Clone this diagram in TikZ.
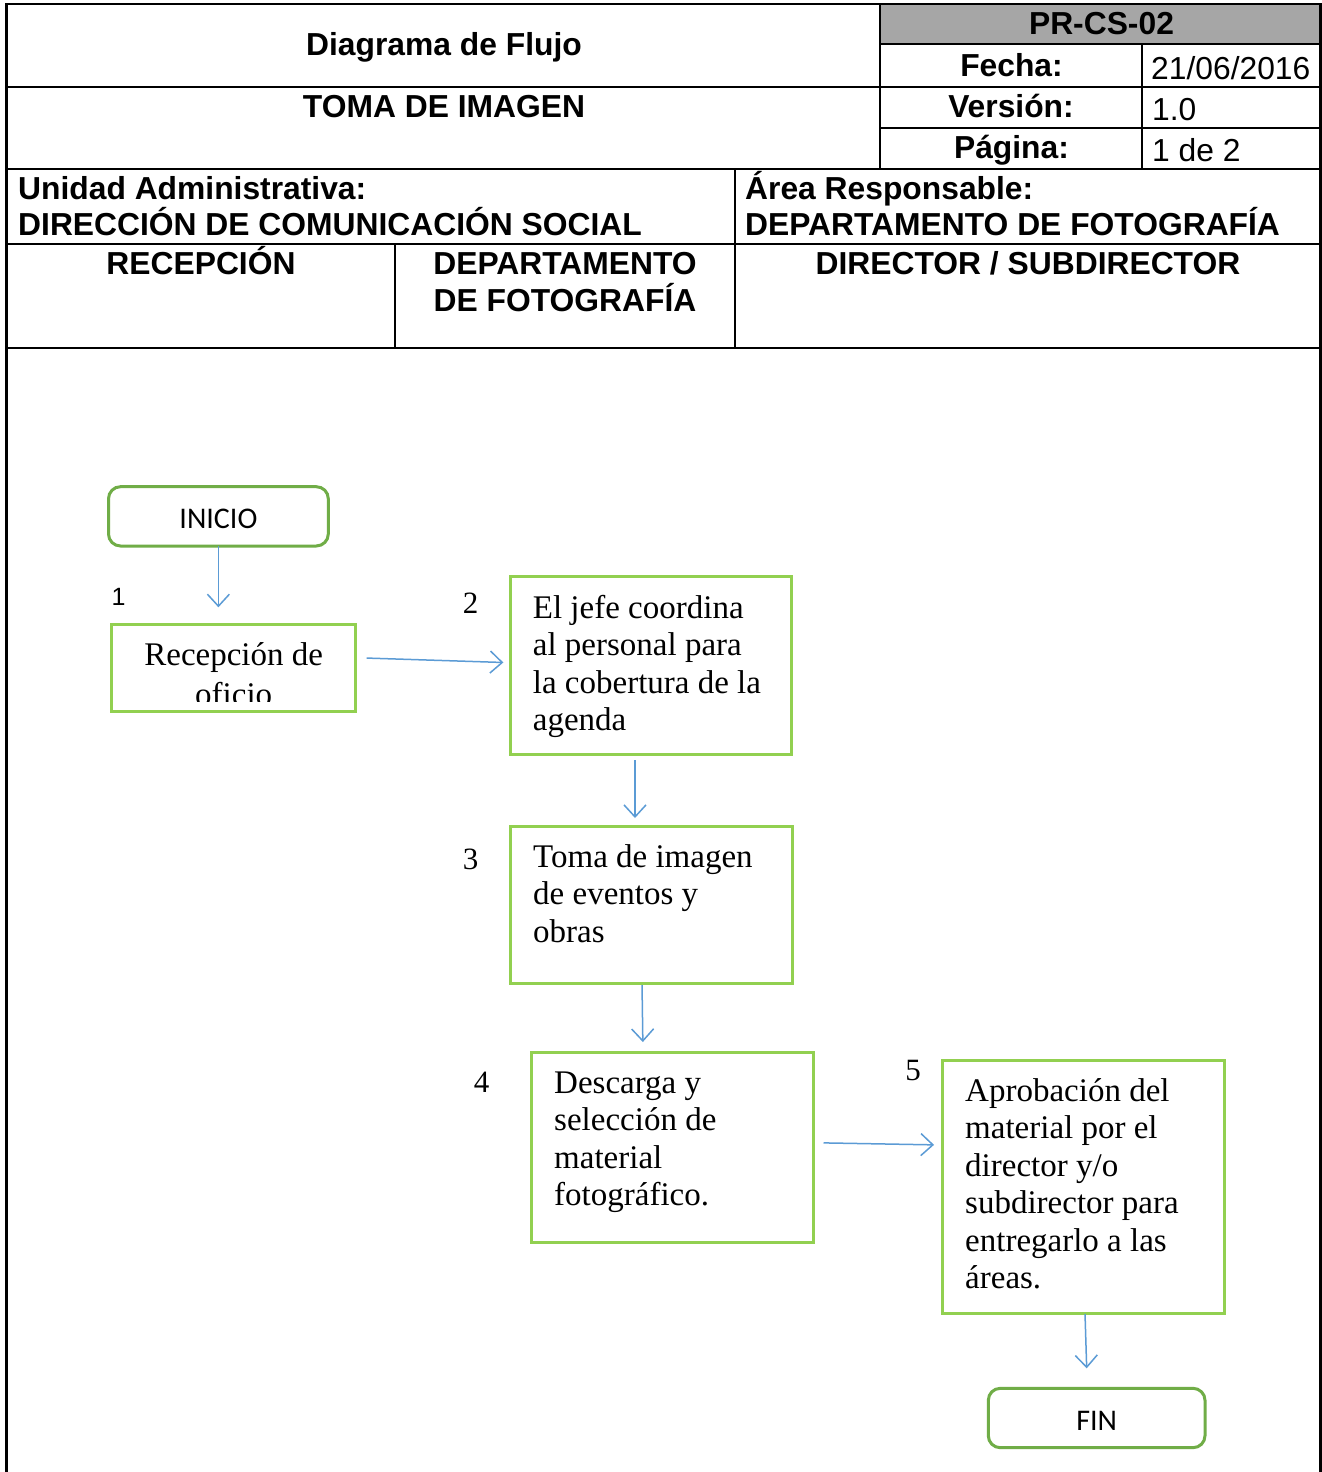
\documentclass[tikz,border=0pt]{standalone}
\usepackage{fontspec}
\setmainfont{Liberation Serif}
\newfontfamily\arialf{Liberation Sans}
\newfontfamily\calf{Carlito}
\usetikzlibrary{arrows.meta}
\definecolor{boxgreen}{HTML}{92D050}
\definecolor{termgreen}{HTML}{70AD47}
\definecolor{arrowblue}{HTML}{5B9BD5}
\definecolor{hdrgray}{HTML}{A6A6A6}
\newcommand\boxlines[1]{\vtop{\baselineskip=37.5pt\lineskiplimit=-50pt\lineskip=0pt #1}}
\newcommand\boxlineswide[1]{\vtop{\baselineskip=40pt\lineskiplimit=-50pt\lineskip=0pt #1}}
\begin{document}
\begin{tikzpicture}[x=1pt,y=-1pt,
  hdr/.style={font=\arialf\bfseries\fontsize{31.8}{36}\selectfont, inner sep=0pt, anchor=base},
  hdrl/.style={hdr, anchor=base west},
  hdrreg/.style={font=\arialf\fontsize{31.8}{36}\selectfont, inner sep=0pt, anchor=base west},
  frameline/.style={line width=2.6pt},
  rule/.style={line width=2pt},
  stepbox/.style={draw=boxgreen, line width=3pt, inner sep=0pt, outer sep=0pt},
  termbox/.style={draw=termgreen, line width=3pt, rounded corners=12pt, inner sep=0pt, outer sep=0pt,
    font=\calf\fontsize{30}{34}\selectfont, text height=24pt, text depth=0pt},
  boxtxt/.style={font=\fontsize{33}{37.5}\selectfont, inner sep=0pt, anchor=base west},
  numtxt/.style={font=\fontsize{31}{36}\selectfont, inner sep=0pt, anchor=base},
  conn/.style={draw=arrowblue, line width=1.5pt, -{Straight Barb[length=12pt,width=22pt,line width=1.5pt]}}
]
\useasboundingbox (0,0) rectangle (1322,1472);
\fill[white] (0,0) rectangle (1322,1472);

% header frame
\fill[hdrgray] (880,4) rectangle (1320.5,44);
\draw[frameline] (6.5,1472) -- (6.5,4) -- (1320.5,4) -- (1320.5,1472);
\draw[rule] (6.5,87) -- (1320.5,87);
\draw[rule] (880,4) -- (880,169);
\draw[rule] (880,44) -- (1320.5,44);
\draw[rule] (880,128) -- (1320.5,128);
\draw[rule] (1142,44) -- (1142,169);
\draw[rule] (6.5,169) -- (1320.5,169);
\draw[rule] (735,169) -- (735,348);
\draw[rule] (6.5,244) -- (1320.5,244);
\draw[rule] (395,244) -- (395,348);
\draw[rule] (6.5,348) -- (1320.5,348);

% header texts
\node[hdr] (title) at (444,56) {Diagrama de Flujo};
\node[hdr] (proc) at (444,117) {TOMA DE IMAGEN};
\node[hdr] (code) at (1101.5,35) {PR-CS-02};
\node[hdr] (fecha) at (1011.5,77) {Fecha:};
\node[hdr] (version) at (1011,117) {Versión:};
\node[hdr] (pagina) at (1011.5,158) {Página:};
\node[hdrreg] (fechav) at (1151,79) {21/06/2016};
\node[hdrreg] (versionv) at (1152,120) {1.0};
\node[hdrreg] (paginav) at (1152,161) {1 de 2};
\node[hdrl] (unidad) at (18,199) {Unidad Administrativa:};
\node[hdrl] (unidadv) at (18,235) {DIRECCIÓN DE COMUNICACIÓN SOCIAL};
\node[hdrl] (area) at (745,199) {Área Responsable:};
\node[hdrl] (areav) at (745,235) {DEPARTAMENTO DE FOTOGRAFÍA};
\node[hdr] (lane1) at (201,274) {RECEPCIÓN};
\node[hdr] (lane2a) at (565,274) {DEPARTAMENTO};
\node[hdr] (lane2b) at (565,311) {DE FOTOGRAFÍA};
\node[hdr] (lane3) at (1028,274) {DIRECTOR / SUBDIRECTOR};

% terminals
\node[termbox, minimum width=219.8pt, minimum height=59.3pt] (ini) at (218.4,516.35) {INICIO};
\node[termbox, minimum width=216.7pt, minimum height=59.4pt] (fin) at (1096.65,1418) {FIN};

% step texts
\begin{scope}
\clip (111.7,628) rectangle (355.7,701.5);
\node[boxtxt, anchor=base] (b1t) at (233.7,665) {\boxlineswide{\hbox to 0pt{\hss Recepción de\hss}\hbox to 0pt{\hss oficio\hss}}};
\end{scope}
\node[boxtxt] (b2t) at (532.7,618.3) {\boxlines{\hbox{El jefe coordina}\hbox{al personal para}\hbox{la cobertura de la}\hbox{agenda}}};
\node[boxtxt] (b3t) at (533,867.3) {\boxlines{\hbox{Toma de imagen}\hbox{de eventos y}\hbox{obras}}};
\node[boxtxt] (b4t) at (554,1093.3) {\boxlines{\hbox{Descarga y}\hbox{selección de}\hbox{material}\hbox{fotográfico.}}};
\node[boxtxt] (b5t) at (965,1101) {\boxlines{\hbox{Aprobación del}\hbox{material por el}\hbox{director y/o}\hbox{subdirector para}\hbox{entregarlo a las}\hbox{áreas.}}};

% step boxes
\node[stepbox, minimum width=244pt, minimum height=87.7pt] (b1) at (233.7,667.85) {};
\node[stepbox, minimum width=281.7pt, minimum height=178pt] (b2) at (650.85,665) {};
\node[stepbox, minimum width=281.3pt, minimum height=156.6pt] (b3) at (651.35,905) {};
\node[stepbox, minimum width=281.5pt, minimum height=189.8pt] (b4) at (672.25,1147.4) {};
\node[stepbox, minimum width=282pt, minimum height=252.6pt] (b5) at (1083,1187) {};

% step numbers
\node[font=\arialf\fontsize{25}{28}\selectfont, inner sep=0pt, anchor=base] (n1) at (118.5,605) {1};
\node[numtxt] (n2) at (470.5,613.3) {2};
\node[numtxt] (n3) at (470.5,869.3) {3};
\node[numtxt] (n4) at (481.5,1092) {4};
\node[numtxt] (n5) at (913,1080) {5};

% connectors
\draw[conn, shorten >=16.7pt] (ini.south) -- (ini.south |- b1.north);
\draw[conn, shorten <=11pt, shorten >=6.7pt] ([yshift=10.15pt]b1.east) -- ([yshift=2.3pt]b2.west);
\draw[conn, shorten <=6pt, shorten >=8.7pt] ([xshift=-15.85pt]b2.south) -- ([xshift=-16.35pt]b3.north);
\draw[conn, shorten <=1.7pt, shorten >=10.5pt] ([xshift=-9.35pt]b3.south) -- ([xshift=-29.25pt]b4.north);
\draw[conn, shorten <=10.5pt, shorten >=8pt] ([yshift=4.7pt]b4.east) -- ([yshift=42pt]b5.west);
\draw[conn, shorten <=0.7pt, shorten >=20pt] ([xshift=2pt]b5.south) -- ([xshift=-9.35pt]fin.north);
\end{tikzpicture}
\end{document}
